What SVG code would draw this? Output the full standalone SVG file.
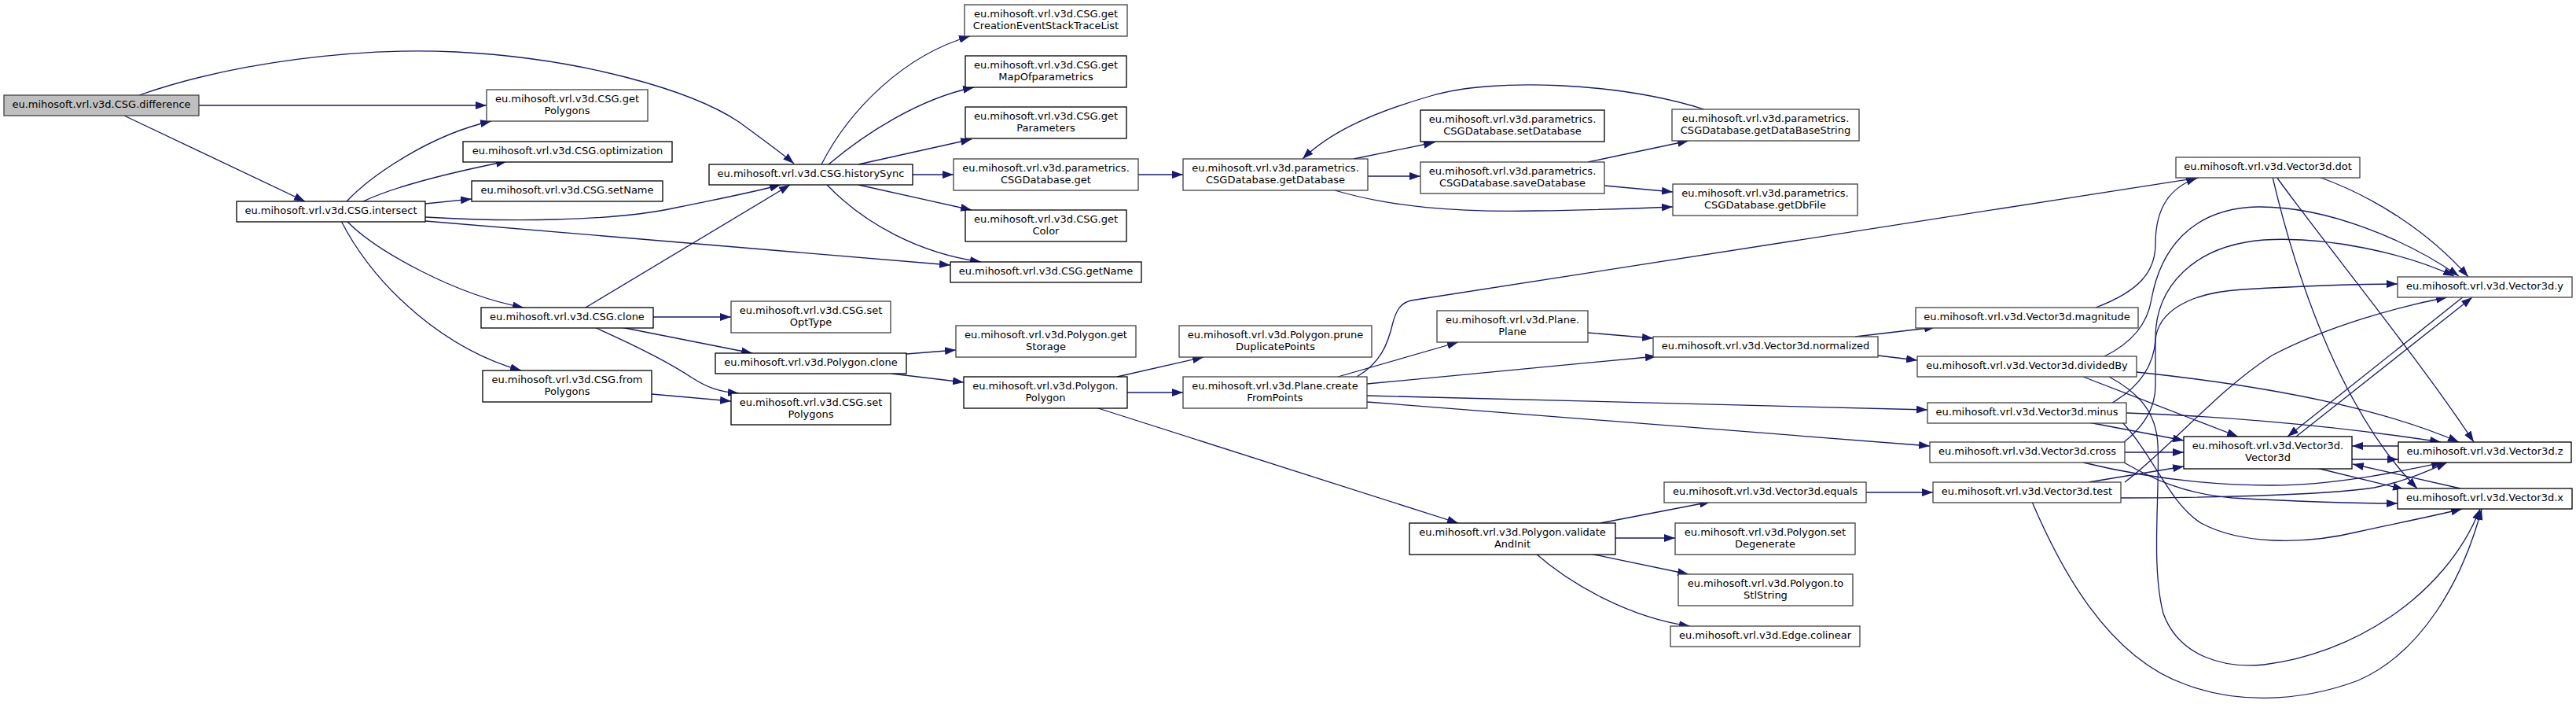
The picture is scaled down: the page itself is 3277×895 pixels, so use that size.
<svg xmlns="http://www.w3.org/2000/svg" width="3277" height="895" viewBox="0 0 3277 895">
<defs>
<marker id="a" markerUnits="userSpaceOnUse" markerWidth="14" markerHeight="10" refX="14" refY="5" orient="auto"><path d="M0,0 L14,5 L0,10 z" fill="#191970"/></marker>
<style>
.n rect{fill:#fff;stroke:#000;stroke-width:1.3}
.n.g rect{stroke:#404040}
.n.r rect{fill:#bfbfbf;stroke:#404040}
text{font-family:"DejaVu Sans","Liberation Sans",sans-serif;font-size:13px;text-anchor:middle;fill:#000}
.e path{fill:none;stroke:#191970;stroke-width:1.3;marker-end:url(#a)}
</style>
</defs>
<rect width="3277" height="895" fill="#fff"/>
<g class="e" id="edges">
<path d="M177,121 C300,78 460,60 580,66 C740,74 880,115 940,155 C970,177 995,195 1010,208"/>
<path d="M253,134 L619,134"/>
<path d="M158,147 L388,256"/>
<path d="M441,256 C470,225 545,172 625,154"/>
<path d="M462,256 C500,238 560,222 645,205"/>
<path d="M541,259 L600,253"/>
<path d="M541,276 C640,282 780,282 860,264 C920,252 960,244 993,235"/>
<path d="M541,281 L1209,337"/>
<path d="M442,282 C480,320 580,375 666,391"/>
<path d="M434,281 C480,370 570,445 663,471"/>
<path d="M745,391 L1005,235"/>
<path d="M831,403 L930,403"/>
<path d="M790,416 L957,449"/>
<path d="M756,416 C810,440 850,460 880,480 C900,493 915,498 940,500"/>
<path d="M829,501 L930,510"/>
<path d="M1045,209 C1080,140 1150,70 1234,46"/>
<path d="M1054,209 C1100,170 1170,125 1239,111"/>
<path d="M1092,209 L1236,177"/>
<path d="M1161,222 L1213,222"/>
<path d="M1092,235 L1236,267"/>
<path d="M1052,235 C1100,285 1170,322 1248,333"/>
<path d="M1448,222 L1505,222"/>
<path d="M1722,202 L1825,181"/>
<path d="M1740,224 L1807,224"/>
<path d="M1698,242 C1770,263 1850,270 1954,268 C2030,267 2080,265 2128,263"/>
<path d="M2168,139 C2060,105 1900,98 1820,122 C1740,145 1690,170 1657,202"/>
<path d="M2020,206 L2148,179"/>
<path d="M2041,236 L2128,244"/>
<path d="M1153,450 L1216,445"/>
<path d="M1134,475 L1226,486"/>
<path d="M1421,479 L1531,454"/>
<path d="M1434,499 L1505,499"/>
<path d="M1397,519 L1855,665"/>
<path d="M1726,479 C1755,462 1765,440 1772,410 C1777,392 1783,385 1795,382 L2797,226"/>
<path d="M1702,479 L1855,435"/>
<path d="M1739,488 L2107,453"/>
<path d="M1739,503 L2452,521"/>
<path d="M1739,511 L2455,567"/>
<path d="M2020,423 L2103,430"/>
<path d="M2360,428 L2462,416"/>
<path d="M2389,452 L2439,458"/>
<path d="M2036,665 L2176,638"/>
<path d="M2055,684 L2131,684"/>
<path d="M2023,704 L2148,730"/>
<path d="M1954,704 C1995,740 2070,785 2150,796"/>
<path d="M2374,626 L2459,626"/>
<path d="M2666,391 C2722,370 2742,345 2742,310 C2742,262 2762,238 2795,226"/>
<path d="M2950,225 C3020,250 3090,295 3140,352"/>
<path d="M2896,225 C2950,300 3080,460 3147,562"/>
<path d="M2891,225 C2925,370 2985,530 3075,621"/>
<path d="M2677,453 C2712,436 2732,412 2737,380 C2748,320 2785,265 2872,263 C2960,262 3062,305 3128,351"/>
<path d="M2718,473 C2860,488 3020,515 3128,562"/>
<path d="M2650,479 L2847,555"/>
<path d="M2683,479 C2722,500 2743,525 2745,565 C2748,625 2736,720 2752,780 C2772,835 2830,850 2880,845 C2990,832 3110,760 3155,647"/>
<path d="M2687,512 C2725,490 2740,462 2742,432 C2745,398 2782,372 2853,368 C2940,363 3000,361 3050,361"/>
<path d="M2705,525 C2800,528 2950,538 3105,562"/>
<path d="M2657,537 L2778,560"/>
<path d="M2700,537 C2740,580 2760,640 2800,665 C2850,692 2930,693 3000,676 C3060,663 3100,655 3132,647"/>
<path d="M2702,562 C2730,540 2742,515 2742,490 L2742,430 C2742,365 2790,312 2880,305 C2960,300 3060,322 3122,351"/>
<path d="M2703,575 L2778,575"/>
<path d="M2650,588 C2720,605 2800,617 2890,617 C2970,617 3050,600 3107,588"/>
<path d="M2702,588 C2740,610 2780,628 2840,633 C2930,638 3000,640 3050,640"/>
<path d="M2703,613 C2760,570 2820,497 2890,452 C2960,415 3050,390 3113,378"/>
<path d="M2657,613 L2778,593"/>
<path d="M2698,633 C2800,633 2950,630 3020,620 C3060,612 3090,598 3113,588"/>
<path d="M2585,638 C2620,720 2680,835 2780,870 C2840,893 2920,895 3000,865 C3080,830 3132,740 3157,647"/>
<path d="M2921,555 L3145,378"/>
<path d="M3134,377 L2910,555"/>
<path d="M3051,567 L2992,567"/>
<path d="M2992,584 L3051,584"/>
<path d="M2947,595 L3058,622"/>
<path d="M3130,621 L2993,590"/>
</g>
<g class="n r" id="difference"><rect x="5" y="121" width="248" height="26"/><text x="129" y="137">eu.mihosoft.vrl.v3d.CSG.difference</text></g>
<g class="n g" id="getPolygons"><rect x="619" y="114" width="205" height="40"/><text x="721.5" y="129.5">eu.mihosoft.vrl.v3d.CSG.get</text><text x="721.5" y="144.5">Polygons</text></g>
<g class="n" id="optimization"><rect x="589" y="180" width="266" height="26"/><text x="722" y="196">eu.mihosoft.vrl.v3d.CSG.optimization</text></g>
<g class="n" id="setName"><rect x="600" y="230" width="243" height="26"/><text x="721.5" y="246">eu.mihosoft.vrl.v3d.CSG.setName</text></g>
<g class="n" id="intersect"><rect x="301" y="256" width="240" height="26"/><text x="421" y="272">eu.mihosoft.vrl.v3d.CSG.intersect</text></g>
<g class="n" id="csgClone"><rect x="612" y="391" width="219" height="26"/><text x="721.5" y="407">eu.mihosoft.vrl.v3d.CSG.clone</text></g>
<g class="n" id="fromPolygons"><rect x="614" y="471" width="215" height="40"/><text x="721.5" y="486.5">eu.mihosoft.vrl.v3d.CSG.from</text><text x="721.5" y="501.5">Polygons</text></g>
<g class="n" id="historySync"><rect x="902" y="209" width="259" height="26"/><text x="1031.5" y="225">eu.mihosoft.vrl.v3d.CSG.historySync</text></g>
<g class="n g" id="getCreation"><rect x="1227" y="6" width="207" height="40"/><text x="1330.5" y="21.5">eu.mihosoft.vrl.v3d.CSG.get</text><text x="1330.5" y="36.5">CreationEventStackTraceList</text></g>
<g class="n" id="getMap"><rect x="1228" y="71" width="205" height="40"/><text x="1330.5" y="86.5">eu.mihosoft.vrl.v3d.CSG.get</text><text x="1330.5" y="101.5">MapOfparametrics</text></g>
<g class="n" id="getParameters"><rect x="1228" y="136" width="205" height="40"/><text x="1330.5" y="151.5">eu.mihosoft.vrl.v3d.CSG.get</text><text x="1330.5" y="166.5">Parameters</text></g>
<g class="n g" id="dbGet"><rect x="1213" y="202" width="235" height="40"/><text x="1330.5" y="217.5">eu.mihosoft.vrl.v3d.parametrics.</text><text x="1330.5" y="232.5">CSGDatabase.get</text></g>
<g class="n" id="getColor"><rect x="1228" y="267" width="205" height="40"/><text x="1330.5" y="282.5">eu.mihosoft.vrl.v3d.CSG.get</text><text x="1330.5" y="297.5">Color</text></g>
<g class="n" id="getName"><rect x="1209" y="333" width="243" height="26"/><text x="1330.5" y="349">eu.mihosoft.vrl.v3d.CSG.getName</text></g>
<g class="n g" id="getDatabase"><rect x="1505" y="202" width="235" height="40"/><text x="1622.5" y="217.5">eu.mihosoft.vrl.v3d.parametrics.</text><text x="1622.5" y="232.5">CSGDatabase.getDatabase</text></g>
<g class="n g" id="setOptType"><rect x="930" y="383" width="203" height="40"/><text x="1031.5" y="398.5">eu.mihosoft.vrl.v3d.CSG.set</text><text x="1031.5" y="413.5">OptType</text></g>
<g class="n" id="polygonClone"><rect x="910" y="449" width="243" height="26"/><text x="1031.5" y="465">eu.mihosoft.vrl.v3d.Polygon.clone</text></g>
<g class="n" id="setPolygons"><rect x="930" y="500" width="203" height="40"/><text x="1031.5" y="515.5">eu.mihosoft.vrl.v3d.CSG.set</text><text x="1031.5" y="530.5">Polygons</text></g>
<g class="n g" id="getStorage"><rect x="1216" y="414" width="229" height="40"/><text x="1330.5" y="429.5">eu.mihosoft.vrl.v3d.Polygon.get</text><text x="1330.5" y="444.5">Storage</text></g>
<g class="n" id="polygonPolygon"><rect x="1226" y="479" width="208" height="40"/><text x="1330" y="494.5">eu.mihosoft.vrl.v3d.Polygon.</text><text x="1330" y="509.5">Polygon</text></g>
<g class="n g" id="prune"><rect x="1500" y="414" width="245" height="40"/><text x="1622.5" y="429.5">eu.mihosoft.vrl.v3d.Polygon.prune</text><text x="1622.5" y="444.5">DuplicatePoints</text></g>
<g class="n g" id="createFromPoints"><rect x="1505" y="479" width="234" height="40"/><text x="1622" y="494.5">eu.mihosoft.vrl.v3d.Plane.create</text><text x="1622" y="509.5">FromPoints</text></g>
<g class="n" id="setDatabase"><rect x="1807" y="140" width="234" height="40"/><text x="1924" y="155.5">eu.mihosoft.vrl.v3d.parametrics.</text><text x="1924" y="170.5">CSGDatabase.setDatabase</text></g>
<g class="n g" id="saveDatabase"><rect x="1807" y="206" width="234" height="40"/><text x="1924" y="221.5">eu.mihosoft.vrl.v3d.parametrics.</text><text x="1924" y="236.5">CSGDatabase.saveDatabase</text></g>
<g class="n g" id="getDataBaseString"><rect x="2127" y="139" width="238" height="40"/><text x="2246" y="154.5">eu.mihosoft.vrl.v3d.parametrics.</text><text x="2246" y="169.5">CSGDatabase.getDataBaseString</text></g>
<g class="n g" id="getDbFile"><rect x="2128" y="234" width="235" height="40"/><text x="2245.5" y="249.5">eu.mihosoft.vrl.v3d.parametrics.</text><text x="2245.5" y="264.5">CSGDatabase.getDbFile</text></g>
<g class="n g" id="planePlane"><rect x="1828" y="395" width="192" height="40"/><text x="1924" y="410.5">eu.mihosoft.vrl.v3d.Plane.</text><text x="1924" y="425.5">Plane</text></g>
<g class="n g" id="normalized"><rect x="2103" y="428" width="286" height="26"/><text x="2246" y="444">eu.mihosoft.vrl.v3d.Vector3d.normalized</text></g>
<g class="n g" id="magnitude"><rect x="2437" y="391" width="283" height="26"/><text x="2578.5" y="407">eu.mihosoft.vrl.v3d.Vector3d.magnitude</text></g>
<g class="n g" id="dividedBy"><rect x="2439" y="453" width="279" height="26"/><text x="2578.5" y="469">eu.mihosoft.vrl.v3d.Vector3d.dividedBy</text></g>
<g class="n g" id="minus"><rect x="2452" y="512" width="253" height="26"/><text x="2578.5" y="528">eu.mihosoft.vrl.v3d.Vector3d.minus</text></g>
<g class="n g" id="cross"><rect x="2455" y="562" width="248" height="26"/><text x="2579" y="578">eu.mihosoft.vrl.v3d.Vector3d.cross</text></g>
<g class="n g" id="test"><rect x="2459" y="613" width="239" height="26"/><text x="2578.5" y="629">eu.mihosoft.vrl.v3d.Vector3d.test</text></g>
<g class="n g" id="equals"><rect x="2117" y="613" width="257" height="26"/><text x="2245.5" y="629">eu.mihosoft.vrl.v3d.Vector3d.equals</text></g>
<g class="n" id="validateAndInit"><rect x="1793" y="665" width="262" height="40"/><text x="1924" y="680.5">eu.mihosoft.vrl.v3d.Polygon.validate</text><text x="1924" y="695.5">AndInit</text></g>
<g class="n g" id="setDegenerate"><rect x="2131" y="665" width="229" height="40"/><text x="2245.5" y="680.5">eu.mihosoft.vrl.v3d.Polygon.set</text><text x="2245.5" y="695.5">Degenerate</text></g>
<g class="n g" id="toStlString"><rect x="2135" y="730" width="222" height="40"/><text x="2246" y="745.5">eu.mihosoft.vrl.v3d.Polygon.to</text><text x="2246" y="760.5">StlString</text></g>
<g class="n g" id="colinear"><rect x="2125" y="796" width="241" height="26"/><text x="2245.5" y="812">eu.mihosoft.vrl.v3d.Edge.colinear</text></g>
<g class="n g" id="dot"><rect x="2768" y="200" width="234" height="26"/><text x="2885" y="216">eu.mihosoft.vrl.v3d.Vector3d.dot</text></g>
<g class="n g" id="vy"><rect x="3050" y="352" width="222" height="26"/><text x="3161" y="368">eu.mihosoft.vrl.v3d.Vector3d.y</text></g>
<g class="n" id="vector3d"><rect x="2778" y="555" width="214" height="41"/><text x="2885" y="571">eu.mihosoft.vrl.v3d.Vector3d.</text><text x="2885" y="586">Vector3d</text></g>
<g class="n" id="vz"><rect x="3051" y="562" width="220" height="26"/><text x="3161" y="578">eu.mihosoft.vrl.v3d.Vector3d.z</text></g>
<g class="n" id="vx"><rect x="3050" y="621" width="222" height="26"/><text x="3161" y="637">eu.mihosoft.vrl.v3d.Vector3d.x</text></g>
</svg>
